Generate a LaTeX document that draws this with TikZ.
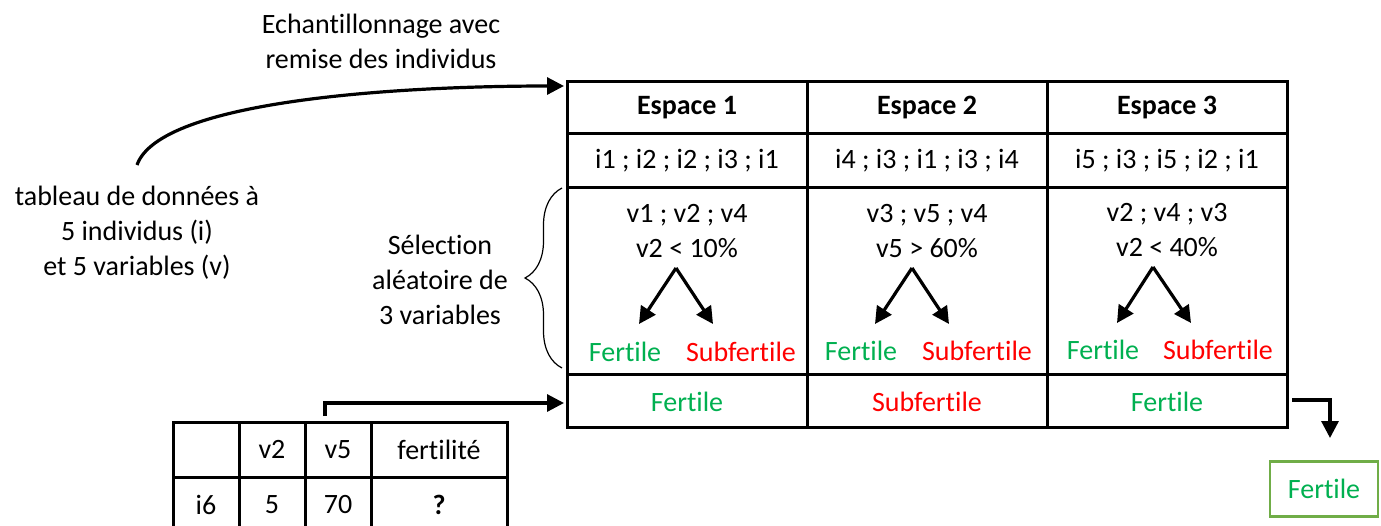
\documentclass[tikz,border=0pt]{standalone}
\usepackage{fontspec}
\setmainfont{Carlito}[Ligatures={NoCommon}]
\usetikzlibrary{arrows.meta,decorations.pathreplacing}
\definecolor{fgreen}{HTML}{00B050}
\definecolor{fred}{HTML}{FF0000}
\definecolor{boxgreen}{HTML}{70AD47}
\tikzset{
  txt/.style={font=\fontsize{28}{35}\selectfont, inner sep=0, align=center},
  cell/.style={draw, line width=3, inner sep=0, minimum width=240, minimum height=#1},
  scell/.style={draw, line width=3, inner sep=0, minimum width=#1, minimum height=55},
  arr/.style={line width=3.2, -{Triangle[length=17,width=17]}},
  gr/.style={txt, text=fgreen},
  rd/.style={txt, text=fred},
}
\begin{document}
\begin{tikzpicture}[x=1pt,y=-1pt]
\useasboundingbox (0,0) rectangle (1381,525);
% main table
\foreach \c/\x in {1/687,2/927,3/1167}{
  \node[cell=52] (h\c) at (\x,107) {};
  \node[cell=54] (r\c) at (\x,160) {};
  \node[cell=187] (t\c) at (\x,280.5) {};
  \node[cell=53] (b\c) at (\x,400.5) {};
}
\node[txt, font=\fontsize{28}{35}\selectfont\bfseries] (e1) at (687,108) {Espace 1};
\node[txt, font=\fontsize{28}{35}\selectfont\bfseries] (e2) at (927,108) {Espace 2};
\node[txt, font=\fontsize{28}{35}\selectfont\bfseries] (e3) at (1167,108) {Espace 3};
\node[txt] (s1) at (687,161) {i1 ; i2 ; i2 ; i3 ; i1};
\node[txt] (s2) at (927,161) {i4 ; i3 ; i1 ; i3 ; i4};
\node[txt] (s3) at (1167,161) {i5 ; i3 ; i5 ; i2 ; i1};
\node[txt] (v1) at (687,231) {v1 ; v2 ; v4\\v2 < 10\%};
\node[txt] (v2) at (927,231) {v3 ; v5 ; v4\\v5 > 60\%};
\node[txt] (v3) at (1167,230) {v2 ; v4 ; v3\\v2 < 40\%};
% trees
\node[gr] (f1) at (625,352) {Fertile};
\node[rd] (sf1) at (741,352) {Subfertile};
\node[gr] (f2) at (861,351) {Fertile};
\node[rd] (sf2) at (977,351) {Subfertile};
\node[gr] (f3) at (1103,350) {Fertile};
\node[rd] (sf3) at (1218,350) {Subfertile};
\coordinate (a1) at (676,268); \coordinate (l1) at (639,324); \coordinate (m1) at (713,324);
\coordinate (a2) at (912,268); \coordinate (l2) at (875,324); \coordinate (m2) at (949,324);
\coordinate (a3) at (1153,267); \coordinate (l3) at (1117,323); \coordinate (m3) at (1191,323);
\foreach \i in {1,2,3}{
  \draw[arr] (a\i) -- (l\i);
  \draw[arr] (a\i) -- (m\i);
}
% result row
\node[gr] (o1) at (687,402) {Fertile};
\node[rd] (o2) at (927,402) {Subfertile};
\node[gr] (o3) at (1167,402) {Fertile};
% left texts
\node[txt] (ech) at (381,41) {Echantillonnage avec\\remise des individus};
\node[txt] (tab) at (137,233) {tableau de données à\\5 individus (i)\\et 5 variables (v)};
\node[txt] (sel) at (440,280) {Sélection\\aléatoire de\\3 variables};
\coordinate (cs) at (137,165);
\coordinate (ce) at (564,86);
\draw[arr] (cs) .. controls (160,100) and (400,86) .. (ce);
% brace
\coordinate (bb) at (562,368);
\coordinate (bt) at (562,188);
\draw[line width=1.2, decorate, decoration={brace, amplitude=37}] (bb) -- (bt);
% small table
\node[scell=66] (c11) at (206,449.5) {};
\node[scell=66] (c12) at (272,449.5) {};
\node[scell=66] (c13) at (338,449.5) {};
\node[scell=136] (c14) at (439,449.5) {};
\node[scell=66] (c21) at (206,504.5) {};
\node[scell=66] (c22) at (272,504.5) {};
\node[scell=66] (c23) at (338,504.5) {};
\node[scell=136] (c24) at (439,504.5) {};
\node[txt] at (c12) {v2};
\node[txt] at (c13) {v5};
\node[txt] at (c14) {fertilité};
\node[txt] at (206,505) {i6};
\node[txt] at (272,505) {5};
\node[txt] at (338,505) {70};
\node[txt, font=\fontsize{28}{35}\selectfont\bfseries] at (439,505) {?};
% elbow arrows
\coordinate (p0) at (325,416);
\coordinate (p1) at (325,403);
\coordinate (p2) at (564,403);
\draw[arr] (p0) -- (p1) -- (p2);
\node[draw=boxgreen, line width=2.5, minimum width=108, minimum height=55, inner sep=0, text=fgreen, font=\fontsize{28}{35}\selectfont] (fin) at (1324,489) {Fertile};
\coordinate (q0) at (1292,400);
\coordinate (q1) at (1330,400);
\coordinate (q2) at (1330,438);
\draw[arr] (q0) -- (q1) -- (q2);
\end{tikzpicture}
\end{document}
